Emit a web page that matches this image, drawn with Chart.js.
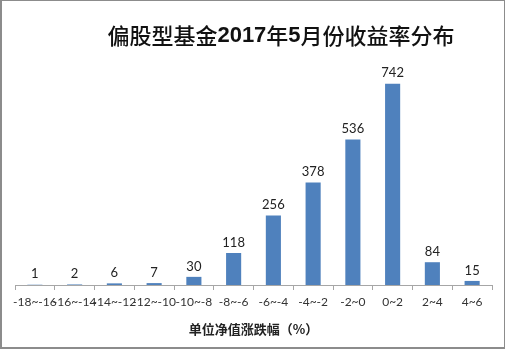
<!DOCTYPE html>
<html>
<head>
<meta charset="utf-8">
<script src="https://cdn.jsdelivr.net/npm/chart.js@4"></script>
<style>
  html, body { margin: 0; padding: 0; background: #fff; }
  #wrap { width: 505px; height: 349px; box-sizing: border-box; border: 1px solid #8c8c8c; border-left-width: 2px; border-bottom-width: 2px; position: relative; }
  canvas { display: block; }
</style>
</head>
<body>
<div id="wrap"><canvas id="myChart" width="502" height="346"></canvas></div>
<script>
const ranges = ['-18~-16', '-16~-14', '-14~-12', '-12~-10', '-10~-8', '-8~-6', '-6~-4', '-4~-2', '-2~0', '0~2', '2~4', '4~6']
const fundCounts = [1, 2, 6, 7, 30, 118, 256, 378, 536, 742, 84, 15]
const titleParts = [['偏股型基金', false], ['2017', true], ['年', false], ['5', true], ['月份收益率分布', false]]
const axisTitle = '单位净值涨跌幅（%）'

const cjk = '"Noto Sans CJK SC", sans-serif'
const latin = 'Lato, "Open Sans", sans-serif'

// value labels above each bar + the title drawn in pieces
const labelPlugin = {
    id: 'labels',
    afterDatasetsDraw(chart) {
        const ctx = chart.ctx
        const meta = chart.getDatasetMeta(0)
        ctx.save()
        ctx.font = '13px ' + latin
        ctx.fillStyle = '#222'
        ctx.textAlign = 'center'
        ctx.textBaseline = 'bottom'
        meta.data.forEach((bar, i) => {
            ctx.fillText(String(fundCounts[i]), bar.x, bar.y - 4)
        })
        ctx.restore()
    },
    afterDraw(chart) {
        const ctx = chart.ctx
        ctx.save()
        ctx.fillStyle = '#111'
        ctx.textBaseline = 'middle'
        let total = 0
        const fonts = titleParts.map(([t, bold]) => bold ? 'bold 22px "Liberation Sans", sans-serif' : '500 22px ' + cjk)
        titleParts.forEach(([t], i) => { ctx.font = fonts[i]; total += ctx.measureText(t).width })
        let x = 279 - total / 2
        titleParts.forEach(([t], i) => {
            ctx.font = fonts[i]
            ctx.fillText(t, x, 35)
            x += ctx.measureText(t).width
        })
        ctx.restore()
    }
}

const config = {
    type: 'bar',
    data: {
        labels: ranges,
        datasets: [{
            data: fundCounts,
            backgroundColor: '#4f81bd',
            categoryPercentage: 1,
            barPercentage: 0.38
        }]
    },
    options: {
        responsive: false,
        animation: false,
        layout: {
            padding: { top: 67, left: 13, right: 12, bottom: 10 }
        },
        plugins: {
            legend: { display: false },
            tooltip: { enabled: false }
        },
        scales: {
            y: { display: false, min: 0, max: 800 },
            x: {
                offset: true,
                grid: {
                    display: true,
                    drawOnChartArea: false,
                    drawTicks: true,
                    tickLength: 5,
                    offset: true,
                    color: '#a6a6a6'
                },
                border: { display: true, color: '#a6a6a6' },
                ticks: {
                    color: '#333',
                    padding: 5,
                    maxRotation: 0,
                    autoSkip: false,
                    font: { family: latin, size: 12 }
                },
                title: {
                    display: true,
                    text: axisTitle,
                    color: '#222',
                    padding: { top: 7, bottom: 0 },
                    font: { family: cjk, size: 13, weight: 'bold' }
                }
            }
        }
    },
    plugins: [labelPlugin]
}

const canvas = document.getElementById('myChart')
if (canvas) {
    new Chart(canvas, config)
}
</script>
</body>
</html>
